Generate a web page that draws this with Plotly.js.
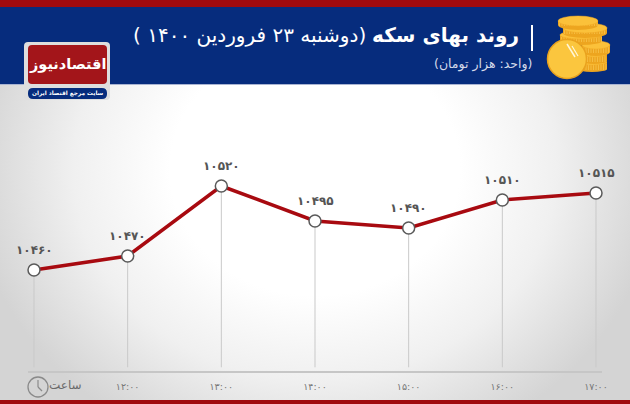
<!DOCTYPE html>
<html>
<head>
<meta charset="utf-8">
<script src="https://cdn.plot.ly/plotly-3.0.1.min.js"></script>
<style>
html, body { margin: 0; padding: 0; }
body { width: 630px; height: 404px; overflow: hidden;
  background: radial-gradient(ellipse 345px 300px at 50% 42%, #ffffff 42%, #f0f0f0 70%, #d4d4d4 100%); }
</style>
</head>
<body>
<div id="chart" style="width:630px;height:404px"></div>
<script>
var hours = ["۱۱:۰۰", "۱۲:۰۰", "۱۳:۰۰", "۱۴:۰۰", "۱۵:۰۰", "۱۶:۰۰", "۱۷:۰۰"];
var tickLabels = ["", "۱۲:۰۰", "۱۳:۰۰", "۱۴:۰۰", "۱۵:۰۰", "۱۶:۰۰", "۱۷:۰۰"];
var prices = [10460, 10470, 10520, 10495, 10490, 10510, 10515];
var priceLabels = ["۱۰۴۶۰", "۱۰۴۷۰", "۱۰۵۲۰", "۱۰۴۹۵", "۱۰۴۹۰", "۱۰۵۱۰", "۱۰۵۱۵"];

var titleBold = "روند بهای سکه";
var titleDate = "\u200F(دوشنبه ۲۳ فروردین ۱۴۰۰ )\u200F";
var unitText = "\u200F(واحد: هزار تومان)\u200F";
var logoText = "اقتصادنیوز";
var logoSub = "سایت مرجع اقتصاد ایران";
var hourWord = "ساعت";

var yFloor = 10390.5;
var drop = prices.map(function (p) { return p - yFloor; });

// drop lines
var trace1 = {
  x: hours, y: prices, type: "scatter", mode: "markers",
  marker: { size: 1, color: "rgba(0,0,0,0)" },
  error_y: { type: "data", symmetric: false, array: prices.map(function () { return 0; }), arrayminus: drop, width: 0, thickness: 1, color: "#c9c9c9" },
  hoverinfo: "skip"
};
var trace2 = {
  x: hours, y: prices, type: "scatter", mode: "lines+markers",
  line: { color: "#a80a10", width: 3.5 },
  marker: { size: 12, color: "#ffffff", line: { color: "#5a5a5a", width: 1.5 } }
};

var annotations = priceLabels.map(function (t, i) {
  return { x: hours[i], y: prices[i], text: t, showarrow: false, yshift: 20,
    font: { family: "DejaVu Sans", size: 12, color: "#555555", weight: 700 } };
});

function paperText(text, px, py, size, color, weight, anchor) {
  return { xref: "paper", yref: "paper", x: px / 630, y: 1 - py / 404, text: text, showarrow: false,
    xanchor: anchor || "center", yanchor: "middle", font: { family: "DejaVu Sans", size: size, color: color, weight: weight || 400 } };
}
annotations.push(paperText(titleBold, 521, 35, 20, "#ffffff", 700, "right"));
annotations.push(paperText(titleDate, 368, 35, 20, "#ffffff", 400, "right"));
annotations.push(paperText(unitText, 534, 64, 12.5, "#d5daea", 400, "right"));
annotations.push(paperText(logoText, 67.5, 64, 14.5, "#ffffff", 700));
annotations.push(paperText(logoSub, 67.5, 93.5, 5.8, "#ffffff", 700));
annotations.push(paperText(hourWord, 65, 385, 12, "#6a6a6a", 400));

function rect(x0, y0, x1, y1, fill, extra) {
  var s = { type: "rect", xref: "paper", yref: "paper", x0: x0 / 630, x1: x1 / 630, y0: 1 - y0 / 404, y1: 1 - y1 / 404,
    fillcolor: fill, line: { width: 0 }, layer: "below" };
  return Object.assign(s, extra || {});
}
function ellipse(cx, cy, rx, ry, fill, lineColor, lw) {
  return { type: "circle", xref: "paper", yref: "paper", x0: (cx - rx) / 630, x1: (cx + rx) / 630, y0: 1 - (cy - ry) / 404, y1: 1 - (cy + ry) / 404,
    fillcolor: fill, line: { color: lineColor, width: lw }, layer: "above" };
}
function seg(x0, y0, x1, y1, color, w) {
  return { type: "line", xref: "paper", yref: "paper", x0: x0 / 630, x1: x1 / 630, y0: 1 - y0 / 404, y1: 1 - y1 / 404, line: { color: color, width: w }, layer: "above" };
}
// rounded box in pixel coords
function roundBox(x0, y0, x1, y1, r, fill) {
  function X(v) { return (v / 630).toFixed(5); }
  function Y(v) { return (1 - v / 404).toFixed(5); }
  var d = "M" + X(x0 + r) + "," + Y(y0) + " L" + X(x1 - r) + "," + Y(y0) + " Q" + X(x1) + "," + Y(y0) + " " + X(x1) + "," + Y(y0 + r) +
    " L" + X(x1) + "," + Y(y1 - r) + " Q" + X(x1) + "," + Y(y1) + " " + X(x1 - r) + "," + Y(y1) +
    " L" + X(x0 + r) + "," + Y(y1) + " Q" + X(x0) + "," + Y(y1) + " " + X(x0) + "," + Y(y1 - r) +
    " L" + X(x0) + "," + Y(y0 + r) + " Q" + X(x0) + "," + Y(y0) + " " + X(x0 + r) + "," + Y(y0) + " Z";
  return { type: "path", xref: "paper", yref: "paper", path: d, fillcolor: fill, line: { width: 0 }, layer: "above" };
}
// one coin of the stack, drawn edge first then the top face
function coin(cx, top, rx, ry, h) {
  var out = [
    ellipse(cx, top + h, rx, ry, "#eda51f", "#eda51f", 0),
    rect(cx - rx, top, cx + rx, top + h, "#eda51f", { layer: "above" })
  ];
  for (var x = cx - rx + 1.5; x < cx + rx; x += 2.5) out.push(seg(x, top + 2, x, top + h + 1, "#ffd567", 0.5));
  out.push(ellipse(cx, top, rx, ry, "#fbc13a", "#f0a925", 0.5));
  return out;
}

var shapes = [
  rect(0, 7, 630, 84, "#062c7d"),
  rect(0, 0, 630, 7, "#a00a0e"),
  rect(0, 84, 630, 85, "#a9b4d2"),
  rect(0, 400, 630, 404, "#a00a0e"),
  rect(28, 371, 602, 373, "#c6c6c6"),
  roundBox(24, 42, 110, 100, 4, "#dedede"),
  roundBox(28, 45, 107, 84, 4, "#a3151a"),
  roundBox(28, 88, 107, 99, 5, "#062c7d")
];
shapes = shapes
  .concat(coin(592, 62, 15, 3, 7))
  .concat(coin(594, 54, 13, 3, 7))
  .concat(coin(596, 45, 14, 4, 7))
  .concat(coin(581, 35, 21, 4, 6))
  .concat(coin(585, 28, 22, 5, 5))
  .concat(coin(578, 21, 20, 5, 4));
shapes = shapes.concat([
  ellipse(567, 59, 19.5, 19.5, "#fbc63e", "#e9a21e", 1.5),
  seg(567, 44, 575, 57, "#fff6d8", 1.5),
  seg(572, 46, 578, 56, "#fff6d8", 1.2),
  // clock
  ellipse(38, 387, 10, 10, "rgba(0,0,0,0)", "#8a8a8a", 1.3),
  seg(38, 380, 38, 387, "#8a8a8a", 1.2),
  seg(38, 387, 42, 391, "#8a8a8a", 1.2),
  // title bar
  rect(531, 25, 533, 51, "#ffffff", { layer: "above" })
]);

var layout = {
  width: 630, height: 404,
  margin: { l: 0, r: 0, t: 0, b: 0, pad: 0 },
  paper_bgcolor: "rgba(0,0,0,0)",
  plot_bgcolor: "rgba(0,0,0,0)",
  showlegend: false,
  xaxis: {
    type: "category", categoryorder: "array", categoryarray: hours,
    range: [-0.363, 6.363],
    tickvals: hours, ticktext: tickLabels,
    showgrid: false, zeroline: false, showline: false,
    ticks: "outside", ticklen: 6, tickcolor: "rgba(0,0,0,0)",
    tickfont: { family: "DejaVu Sans", size: 9.5, color: "#777777" }
  },
  yaxis: {
    domain: [(404 - 372) / 404, (404 - 85) / 404],
    range: [10460 - (372 - 270) / 1.4, 10460 + (270 - 85) / 1.4],
    showgrid: false, zeroline: false, showline: false, showticklabels: false, ticks: ""
  },
  shapes: shapes,
  annotations: annotations
};

Plotly.newPlot("chart", [trace1, trace2], layout, { displayModeBar: false, staticPlot: true });
</script>
</body>
</html>
